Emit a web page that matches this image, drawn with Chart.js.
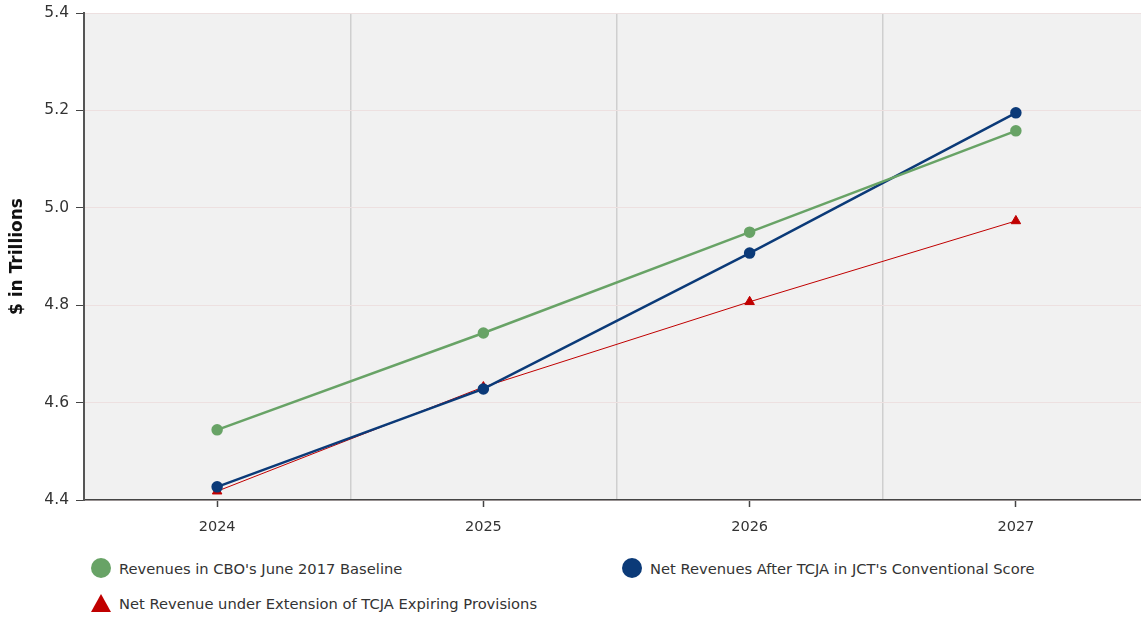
<!DOCTYPE html>
<html>
<head>
<meta charset="utf-8">
<script src="https://cdn.jsdelivr.net/npm/chart.js@4.4.1/dist/chart.umd.min.js"></script>
<style>
  html, body { margin: 0; padding: 0; background: #fff; }
  #wrap { position: relative; width: 1141px; height: 618px; overflow: hidden; }
  #chart { position: absolute; left: 0; top: 0; }
  #legend { position: absolute; left: 91px; top: 558px; width: 1050px; font-family: "DejaVu Sans", Verdana, sans-serif; font-size: 14.7px; color: #333; }
  .item { position: absolute; display: flex; align-items: center; white-space: nowrap; }
  .mark { display: inline-block; margin-right: 8px; }
  .circle { width: 20px; height: 20px; border-radius: 50%; }
  .triangle { width: 0; height: 0; border-left: 10px solid transparent; border-right: 10px solid transparent; border-bottom: 18px solid; }
</style>
</head>
<body>
<div id="wrap">
  <canvas id="chart" width="1156" height="545"></canvas>
  <div id="legend"></div>
</div>
<script>
const years = ['2024', '2025', '2026', '2027'];
const baselineRevenue = [4.544, 4.743, 4.950, 5.158];
const conventionalRevenue = [4.427, 4.628, 4.907, 5.195];
const extensionRevenue = [4.418, 4.632, 4.807, 4.973];
const yTicks = [4.4, 4.6, 4.8, 5.0, 5.2, 5.4];

const seriesNames = [
  "Revenues in CBO's June 2017 Baseline",
  "Net Revenues After TCJA in JCT's Conventional Score",
  'Net Revenue under Extension of TCJA Expiring Provisions'
];
const seriesColors = ['#68a366', '#0b3a78', '#c00000'];

// legend slots: [left, top] inside the legend box
const legendSlots = [[0, 0], [531, 0], [0, 36]];

const plotBackground = {
  id: 'plotBackground',
  beforeDraw(chart) {
    const { ctx, chartArea } = chart;
    ctx.save();
    ctx.fillStyle = '#f1f1f1';
    ctx.fillRect(chartArea.left, chartArea.top, chartArea.right - chartArea.left, chartArea.bottom - chartArea.top);
    ctx.restore();
  }
};

const htmlLegend = {
  id: 'htmlLegend',
  afterUpdate(chart) {
    const box = document.getElementById('legend');
    box.innerHTML = '';
    chart.data.datasets.forEach((ds, i) => {
      const item = document.createElement('div');
      item.className = 'item';
      item.style.left = legendSlots[i][0] + 'px';
      item.style.top = legendSlots[i][1] + 'px';
      const mark = document.createElement('span');
      if (ds.pointStyle === 'triangle') {
        mark.className = 'mark triangle';
        mark.style.borderBottomColor = ds.borderColor;
      } else {
        mark.className = 'mark circle';
        mark.style.background = ds.borderColor;
      }
      const label = document.createElement('span');
      label.textContent = ds.label;
      item.appendChild(mark);
      item.appendChild(label);
      box.appendChild(item);
    });
  }
};

new Chart(document.getElementById('chart'), {
  type: 'line',
  data: {
    labels: years,
    datasets: [
      {
        label: seriesNames[0],
        data: baselineRevenue,
        borderColor: seriesColors[0],
        backgroundColor: seriesColors[0],
        borderWidth: 2.5,
        pointRadius: 4.5,
        pointStyle: 'circle'
      },
      {
        label: seriesNames[1],
        data: conventionalRevenue,
        borderColor: seriesColors[1],
        backgroundColor: seriesColors[1],
        borderWidth: 2.5,
        pointRadius: 4.5,
        pointStyle: 'circle'
      },
      {
        label: seriesNames[2],
        data: extensionRevenue,
        borderColor: seriesColors[2],
        backgroundColor: seriesColors[2],
        borderWidth: 1,
        pointRadius: 5.5,
        pointStyle: 'triangle'
      }
    ]
  },
  options: {
    responsive: false,
    animation: false,
    layout: { padding: { top: 13, right: 0, left: 0, bottom: 0 } },
    plugins: { legend: { display: false }, tooltip: { enabled: false } },
    elements: { line: { tension: 0 } },
    scales: {
      x: {
        type: 'category',
        offset: true,
        grid: { drawOnChartArea: false, offset: false, tickLength: 7, tickColor: '#444', tickWidth: 1.5 },
        border: { color: '#444', width: 1.5 },
        ticks: { color: '#333', font: { family: 'DejaVu Sans', size: 14.5 }, padding: 12 },
        afterFit(scale) { scale.height = 45; }
      },
      xGrid: {
        type: 'category',
        position: 'bottom',
        offset: true,
        grid: { offset: true, color: '#cfcfcf', lineWidth: 1.5, drawTicks: false },
        border: { display: false },
        ticks: { display: false },
        afterFit(scale) { scale.height = 0; }
      },
      y: {
        min: 4.4,
        max: 5.4,
        afterBuildTicks(scale) { scale.ticks = yTicks.map((v) => ({ value: v })); },
        grid: { color: '#ede0e0', lineWidth: 1, tickLength: 8, tickColor: '#444' },
        border: { color: '#555', width: 2 },
        ticks: {
          color: '#333',
          font: { family: 'DejaVu Sans', size: 15.5 },
          padding: 7,
          callback: (v) => Number(v).toFixed(1)
        },
        title: {
          display: true,
          text: '$ in Trillions',
          color: '#111',
          font: { family: 'DejaVu Sans', size: 17, weight: 'bold' },
          padding: { top: 7, bottom: 6 }
        },
        afterFit(scale) {
          scale.width = 84;
          // let the top tick label sit in the outer padding
          scale.paddingTop = 0;
          scale.paddingBottom = 0;
        }
      }
    }
  },
  plugins: [plotBackground, htmlLegend]
});
</script>
</body>
</html>
